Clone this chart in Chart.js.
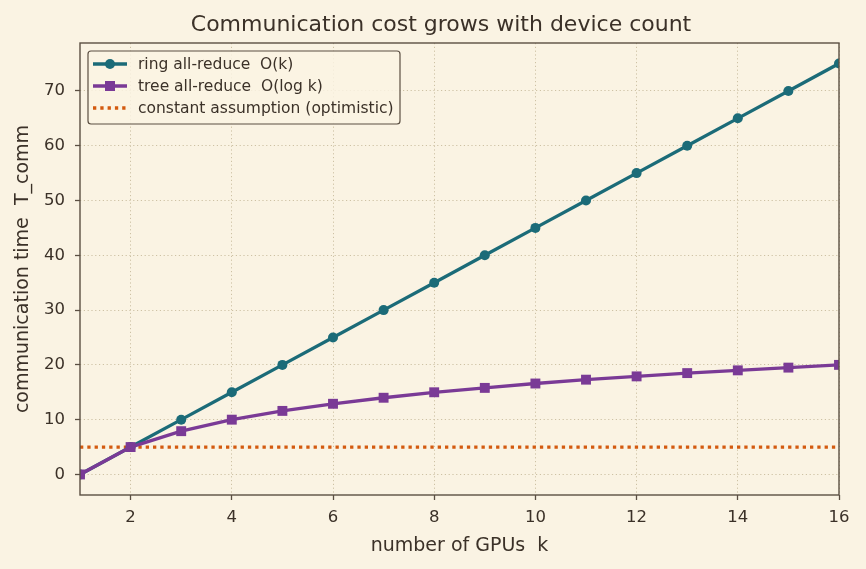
<!DOCTYPE html>
<html>
<head>
<meta charset="utf-8">
<script src="https://cdn.jsdelivr.net/npm/chart.js@4/dist/chart.umd.min.js"></script>
<style>
  html, body { margin: 0; padding: 0; background: #faf3e3; }
  #wrap { width: 866px; height: 569px; position: relative; }
</style>
</head>
<body>
<div id="wrap"><canvas id="chart"></canvas></div>
<script>
// values
const gpuCounts = [1, 2, 3, 4, 5, 6, 7, 8, 9, 10, 11, 12, 13, 14, 15, 16]
const ringCost = [0, 5, 10, 15, 20, 25, 30, 35, 40, 45, 50, 55, 60, 65, 70, 75]
const treeCost = [0, 5, 7.9, 10, 11.6, 12.9, 14.0, 15, 15.8, 16.6, 17.3, 17.9, 18.5, 19.0, 19.5, 20]
const constCost = [5, 5, 5, 5, 5, 5, 5, 5, 5, 5, 5, 5, 5, 5, 5, 5]
const xTicks = [2, 4, 6, 8, 10, 12, 14, 16]
const yTicks = [0, 10, 20, 30, 40, 50, 60, 70]

const INK = '#3b3128'
const FRAME = '#5b4f42'
const GRID = '#cdc1a4'
const FONT = "'DejaVu Sans', sans-serif"

const toPoints = (vals) => gpuCounts.map((k, i) => ({ x: k, y: vals[i] }))

// frame around the plot, title, and the legend inside the axes
const decorations = {
  id: 'decorations',
  beforeDraw(chart) {
    const { ctx } = chart
    ctx.save()
    ctx.fillStyle = '#faf3e3'
    ctx.fillRect(0, 0, chart.width, chart.height)
    ctx.restore()
  },
  afterDraw(chart) {
    const { ctx, chartArea: a } = chart
    ctx.save()
    ctx.strokeStyle = FRAME
    ctx.lineWidth = 1.4
    ctx.strokeRect(a.left, a.top, a.right - a.left, a.bottom - a.top)

    ctx.fillStyle = INK
    ctx.font = '22px ' + FONT
    ctx.textAlign = 'center'
    ctx.textBaseline = 'middle'
    ctx.fillText('Communication cost grows with device count', 441, 25)

    // legend box
    const bx = 88, by = 51, bw = 312, bh = 73
    ctx.beginPath()
    ctx.roundRect(bx, by, bw, bh, 3)
    ctx.fillStyle = 'rgba(250,243,227,0.85)'
    ctx.fill()
    ctx.strokeStyle = FRAME
    ctx.lineWidth = 1.2
    ctx.stroke()

    ctx.font = '15.5px ' + FONT
    ctx.textAlign = 'left'
    chart.data.datasets.forEach((ds, i) => {
      const y = 64 + i * 22
      ctx.strokeStyle = ds.borderColor
      ctx.lineWidth = ds.borderWidth
      ctx.setLineDash(ds.borderDash || [])
      ctx.beginPath()
      ctx.moveTo(93, y)
      ctx.lineTo(127, y)
      ctx.stroke()
      ctx.setLineDash([])
      ctx.fillStyle = ds.borderColor
      if (ds.pointStyle === 'circle' && ds.pointRadius > 0) {
        ctx.beginPath()
        ctx.arc(110, y, 5, 0, Math.PI * 2)
        ctx.fill()
      } else if (ds.pointStyle === 'rect') {
        ctx.fillRect(105, y - 5, 10, 10)
      }
      ctx.fillStyle = INK
      ctx.fillText(ds.label, 138, y + 1)
    })
    ctx.restore()
  }
}

const gridOpts = {
  color: GRID,
  lineWidth: 1,
  tickColor: FRAME,
  tickLength: 5,
  tickWidth: 1.3,
  tickBorderDash: []
}

new Chart(document.getElementById('chart'), {
  type: 'line',
  data: {
    datasets: [
      {
        label: 'ring all-reduce  O(k)',
        data: toPoints(ringCost),
        borderColor: '#1b6b78',
        backgroundColor: '#1b6b78',
        borderWidth: 3.3,
        pointStyle: 'circle',
        pointRadius: 5,
        pointBorderWidth: 0,
        order: 1
      },
      {
        label: 'tree all-reduce  O(log k)',
        data: toPoints(treeCost),
        borderColor: '#7a3a96',
        backgroundColor: '#7a3a96',
        borderWidth: 3.3,
        pointStyle: 'rect',
        pointRadius: 7,
        pointBorderWidth: 0,
        order: 0
      },
      {
        label: 'constant assumption (optimistic)',
        data: toPoints(constCost),
        borderColor: '#d35a0f',
        backgroundColor: '#d35a0f',
        borderWidth: 3.3,
        borderDash: [3.3, 4],
        pointRadius: 0,
        order: 2
      }
    ]
  },
  options: {
    responsive: true,
    maintainAspectRatio: false,
    animation: false,
    layout: { padding: { top: 43, right: 27, left: 0, bottom: 0 } },
    plugins: {
      legend: { display: false },
      tooltip: { enabled: false },
      title: { display: false }
    },
    scales: {
      x: {
        type: 'linear',
        min: 1,
        max: 16,
        afterBuildTicks: (s) => { s.ticks = xTicks.map(v => ({ value: v })) },
        afterFit: (s) => { s.height = 74 },
        ticks: { color: INK, font: { size: 16.5, family: FONT }, padding: 8, maxRotation: 0 },
        grid: gridOpts,
        border: { display: false, dash: [1.2, 2.6] },
        title: {
          display: true,
          text: 'number of GPUs  k',
          color: INK,
          font: { size: 19, family: FONT },
          padding: { top: 0, bottom: 12 }
        }
      },
      y: {
        type: 'linear',
        min: -3.75,
        max: 78.75,
        afterBuildTicks: (s) => { s.ticks = yTicks.map(v => ({ value: v })) },
        afterFit: (s) => { s.width = 80 },
        ticks: { color: INK, font: { size: 16.5, family: FONT }, padding: 10 },
        grid: gridOpts,
        border: { display: false, dash: [1.2, 2.6] },
        title: {
          display: true,
          text: 'communication time  T_comm',
          color: INK,
          font: { size: 19, family: FONT },
          padding: { top: 12, bottom: 0 }
        }
      }
    }
  },
  plugins: [decorations]
})
</script>
</body>
</html>
